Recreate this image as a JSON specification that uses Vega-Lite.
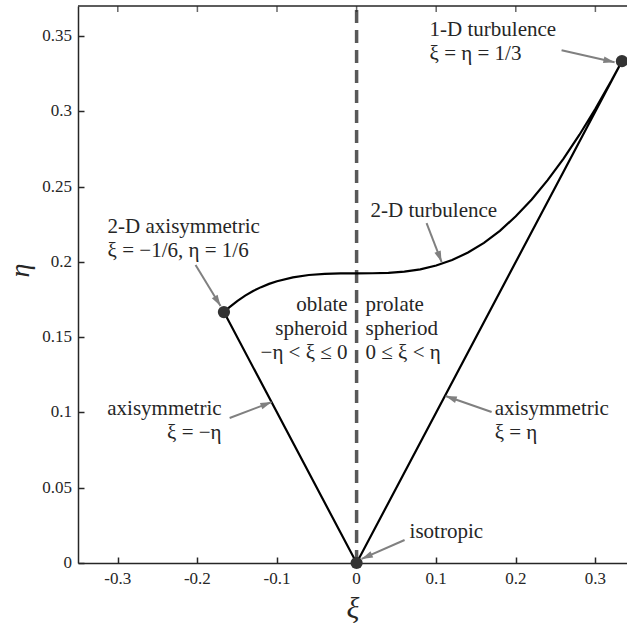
{
  "$schema": "https://vega.github.io/schema/vega-lite/v6.json",
  "width": 549,
  "height": 557,
  "autosize": {"type": "none"},
  "padding": {"left": 78, "top": 6, "right": 0, "bottom": 64},
  "background": "white",
  "config": {
    "view": {"stroke": null},
    "font": "Liberation Serif",
    "axis": {
      "grid": false,
      "labels": false,
      "domainColor": "#262626",
      "domainWidth": 1.5,
      "tickColor": "#262626",
      "tickWidth": 1.5,
      "tickSize": -6,
      "titleFont": "Liberation Serif",
      "titleFontStyle": "italic",
      "titleFontWeight": "normal",
      "titleColor": "#262626"
    }
  },
  "datasets": {
    "boundary": [
      {"order": 0, "x": -0.16667, "y": 0.16667},
      {"order": 1, "x": 0, "y": 0},
      {"order": 2, "x": 0.33333, "y": 0.33333},
      {"order": 3, "x": 0.32, "y": 0.32027},
      {"order": 4, "x": 0.30, "y": 0.30172},
      {"order": 5, "x": 0.28, "y": 0.28450},
      {"order": 6, "x": 0.26, "y": 0.26868},
      {"order": 7, "x": 0.24, "y": 0.25433},
      {"order": 8, "x": 0.22, "y": 0.24152},
      {"order": 9, "x": 0.20, "y": 0.23030},
      {"order": 10, "x": 0.18, "y": 0.22068},
      {"order": 11, "x": 0.16, "y": 0.21267},
      {"order": 12, "x": 0.14, "y": 0.20622},
      {"order": 13, "x": 0.12, "y": 0.20123},
      {"order": 14, "x": 0.10, "y": 0.19758},
      {"order": 15, "x": 0.08, "y": 0.19509},
      {"order": 16, "x": 0.06, "y": 0.19357},
      {"order": 17, "x": 0.04, "y": 0.19278},
      {"order": 18, "x": 0.02, "y": 0.19249},
      {"order": 19, "x": 0, "y": 0.19245},
      {"order": 20, "x": -0.02, "y": 0.19241},
      {"order": 21, "x": -0.04, "y": 0.19212},
      {"order": 22, "x": -0.06, "y": 0.19133},
      {"order": 23, "x": -0.08, "y": 0.18977},
      {"order": 24, "x": -0.10, "y": 0.18718},
      {"order": 25, "x": -0.11, "y": 0.18541},
      {"order": 26, "x": -0.12, "y": 0.18325},
      {"order": 27, "x": -0.13, "y": 0.18068},
      {"order": 28, "x": -0.14, "y": 0.17762},
      {"order": 29, "x": -0.15, "y": 0.17403},
      {"order": 30, "x": -0.16, "y": 0.16984},
      {"order": 31, "x": -0.16667, "y": 0.16667}
    ],
    "states": [
      {"name": "2-D axisymmetric", "x": -0.16667, "y": 0.16667},
      {"name": "isotropic", "x": 0, "y": 0},
      {"name": "1-D turbulence", "x": 0.33333, "y": 0.33333}
    ],
    "arrows": [
      {"name": "1-D turbulence", "x": 0.2575, "y": 0.3406, "x2": 0.3241, "y2": 0.3327},
      {"name": "2-D turbulence", "x": 0.0879, "y": 0.2258, "x2": 0.1068, "y2": 0.1999},
      {"name": "2-D axisymmetric", "x": -0.2023, "y": 0.1979, "x2": -0.1709, "y2": 0.1707},
      {"name": "axisymmetric left", "x": -0.1595, "y": 0.0963, "x2": -0.1068, "y2": 0.1069},
      {"name": "axisymmetric right", "x": 0.1696, "y": 0.1003, "x2": 0.1118, "y2": 0.1109},
      {"name": "isotropic", "x": 0.0603, "y": 0.0153, "x2": 0.0063, "y2": 0.0027}
    ],
    "arrowHeads": [
      {"name": "1-D turbulence", "x": 0.3241, "y": 0.3327, "fromX": 0.2575, "fromY": 0.3406},
      {"name": "2-D turbulence", "x": 0.1068, "y": 0.1999, "fromX": 0.0879, "fromY": 0.2258},
      {"name": "2-D axisymmetric", "x": -0.1709, "y": 0.1707, "fromX": -0.2023, "fromY": 0.1979},
      {"name": "axisymmetric left", "x": -0.1068, "y": 0.1069, "fromX": -0.1595, "fromY": 0.0963},
      {"name": "axisymmetric right", "x": 0.1118, "y": 0.1109, "fromX": 0.1696, "fromY": 0.1003},
      {"name": "isotropic", "x": 0.0063, "y": 0.0027, "fromX": 0.0603, "fromY": 0.0153}
    ],
    "labelsLeft": [
      {"label": "1-D turbulence\nξ = η = 1/3", "x": 0.0917, "y": 0.350},
      {"label": "2-D turbulence", "x": 0.0176, "y": 0.2297},
      {"label": "2-D axisymmetric\nξ = −1/6, η = 1/6", "x": -0.3128, "y": 0.2191},
      {"label": "prolate\nspheriod\n0 ≤ ξ < η", "x": 0.0113, "y": 0.1673},
      {"label": "axisymmetric\nξ = η", "x": 0.1734, "y": 0.0983},
      {"label": "isotropic", "x": 0.0666, "y": 0.0166}
    ],
    "labelsRight": [
      {"label": "oblate\nspheroid\n−η < ξ ≤ 0", "x": -0.0113, "y": 0.1673},
      {"label": "axisymmetric\nξ = −η", "x": -0.1696, "y": 0.0983}
    ],
    "topTicks": [
      {"x": -0.3, "y": 0.37}, {"x": -0.2, "y": 0.37}, {"x": -0.1, "y": 0.37}, {"x": 0, "y": 0.37},
      {"x": 0.1, "y": 0.37}, {"x": 0.2, "y": 0.37}, {"x": 0.3, "y": 0.37}
    ],
    "xTickLabels": [
      {"x": -0.3, "y": 0, "label": "-0.3"}, {"x": -0.2, "y": 0, "label": "-0.2"},
      {"x": -0.1, "y": 0, "label": "-0.1"}, {"x": 0, "y": 0, "label": "0"},
      {"x": 0.1, "y": 0, "label": "0.1"}, {"x": 0.2, "y": 0, "label": "0.2"},
      {"x": 0.3, "y": 0, "label": "0.3"}
    ],
    "yTickLabels": [
      {"x": -0.35, "y": 0, "label": "0"}, {"x": -0.35, "y": 0.05, "label": "0.05"},
      {"x": -0.35, "y": 0.1, "label": "0.1"}, {"x": -0.35, "y": 0.15, "label": "0.15"},
      {"x": -0.35, "y": 0.2, "label": "0.2"}, {"x": -0.35, "y": 0.25, "label": "0.25"},
      {"x": -0.35, "y": 0.3, "label": "0.3"}, {"x": -0.35, "y": 0.35, "label": "0.35"}
    ]
  },
  "encoding": {
    "x": {"field": "x", "type": "quantitative",
          "scale": {"domain": [-0.35, 0.3397], "nice": false, "zero": false},
          "axis": {"title": "ξ", "values": [-0.3, -0.2, -0.1, 0, 0.1, 0.2, 0.3],
                   "labels": false, "tickSize": -6, "titleFontSize": 30,
                   "titleBaseline": "alphabetic", "titleY": 54}},
    "y": {"field": "y", "type": "quantitative",
          "scale": {"domain": [0, 0.37], "nice": false, "zero": false},
          "axis": {"title": "η", "values": [0, 0.05, 0.1, 0.15, 0.2, 0.25, 0.3, 0.35],
                   "labels": false, "tickSize": -6, "titleFontSize": 28,
                   "titleBaseline": "alphabetic", "titleX": -50, "titleY": 264}}
  },
  "layer": [
    {
      "data": {"values": [{"x": 0, "y": 0, "y2": 0.37}]},
      "mark": {"type": "rule", "color": "#595959", "strokeWidth": 3.5, "strokeDash": [13, 7]},
      "encoding": {"y2": {"field": "y2"}}
    },
    {
      "data": {"values": [{"x": -0.35, "x2": 0.3397, "y": 0.37}]},
      "mark": {"type": "rule", "color": "#262626", "strokeWidth": 1.5},
      "encoding": {"x2": {"field": "x2"}}
    },
    {
      "data": {"name": "topTicks"},
      "mark": {"type": "tick", "orient": "vertical", "color": "#262626", "thickness": 1.5, "size": 12, "clip": true},
      "encoding": {}
    },
    {
      "data": {"name": "boundary"},
      "mark": {"type": "line", "color": "black", "strokeWidth": 2.2},
      "encoding": {"order": {"field": "order", "type": "quantitative"}}
    },
    {
      "data": {"name": "arrows"},
      "mark": {"type": "rule", "color": "#808080", "strokeWidth": 2},
      "encoding": {"x2": {"field": "x2"}, "y2": {"field": "y2"}}
    },
    {
      "data": {"name": "arrowHeads"},
      "transform": [
        {"calculate": "atan2((datum.x - datum.fromX) * 796, (datum.y - datum.fromY) * 1505.4) * 180 / PI", "as": "heading"}
      ],
      "mark": {"type": "point", "filled": true, "color": "#808080", "opacity": 1,
               "shape": "M0,0L-0.3,1L0.3,1Z", "size": 500},
      "encoding": {"angle": {"field": "heading", "type": "quantitative", "scale": null}}
    },
    {
      "data": {"name": "states"},
      "mark": {"type": "point", "filled": true, "color": "#333333", "opacity": 1, "size": 150, "shape": "circle"},
      "encoding": {}
    },
    {
      "data": {"name": "labelsLeft"},
      "mark": {"type": "text", "align": "left", "baseline": "alphabetic", "fontSize": 21,
               "lineHeight": 24, "lineBreak": "\n", "color": "#262626", "font": "Liberation Serif"},
      "encoding": {"text": {"field": "label"}}
    },
    {
      "data": {"name": "labelsRight"},
      "mark": {"type": "text", "align": "right", "baseline": "alphabetic", "fontSize": 21,
               "lineHeight": 24, "lineBreak": "\n", "color": "#262626", "font": "Liberation Serif"},
      "encoding": {"text": {"field": "label"}}
    },
    {
      "data": {"name": "xTickLabels"},
      "mark": {"type": "text", "align": "center", "baseline": "alphabetic", "fontSize": 17, "dy": 21,
               "color": "#262626", "font": "Liberation Serif", "clip": false},
      "encoding": {"text": {"field": "label"}}
    },
    {
      "data": {"name": "yTickLabels"},
      "mark": {"type": "text", "align": "right", "baseline": "middle", "fontSize": 17, "dx": -6,
               "color": "#262626", "font": "Liberation Serif", "clip": false},
      "encoding": {"text": {"field": "label"}}
    }
  ]
}
